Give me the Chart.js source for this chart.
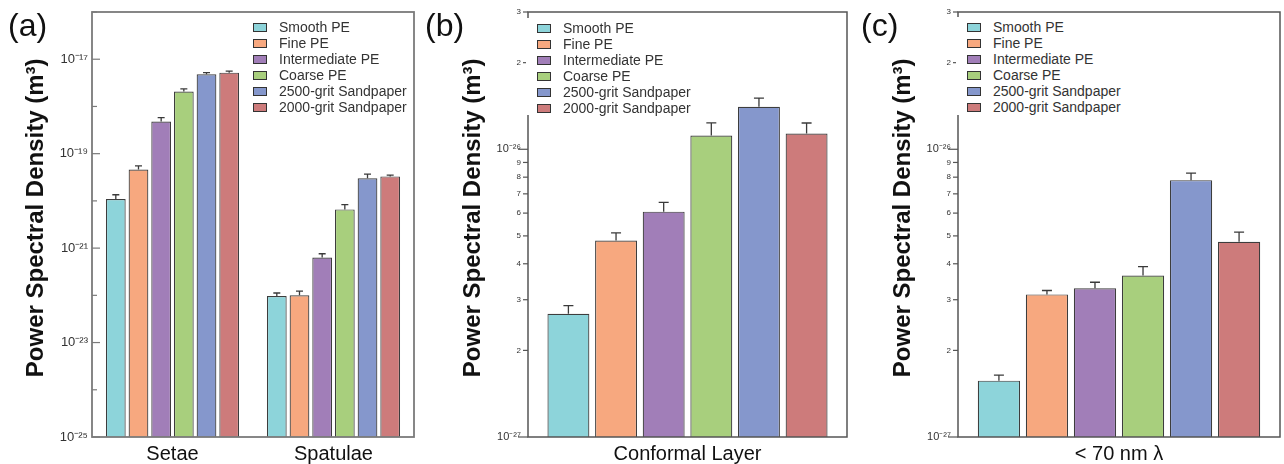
<!DOCTYPE html>
<html>
<head>
<meta charset="utf-8">
<script src="https://cdn.jsdelivr.net/npm/chart.js@4.4.0/dist/chart.umd.min.js"></script>
<style>
  body { margin: 0; background: #fff; font-family: 'Liberation Sans', Arial, sans-serif; }
  #wrap { position: relative; width: 1284px; height: 464px; overflow: hidden; }
  .panel { position: absolute; top: 0; height: 464px; }
  .panel canvas { position: absolute; left: 0; top: 0; }
  .tag { position: absolute; font-size: 32px; line-height: 32px; color: #111; }
  .legend { position: absolute; font-size: 14px; color: #333; }
  .legend .row { position: absolute; height: 16px; line-height: 16px; white-space: nowrap; }
  .legend .sw { position: absolute; width: 12px; height: 7px; border: 1px solid #333; }
</style>
</head>
<body>
<div id="wrap">
  <div class="panel" id="pa" style="left:0;width:424px"><canvas id="chartA" width="424" height="464"></canvas></div>
  <div class="panel" id="pb" style="left:424px;width:428px"><canvas id="chartB" width="428" height="464"></canvas></div>
  <div class="panel" id="pc" style="left:852px;width:432px"><canvas id="chartC" width="432" height="464"></canvas></div>
  <div class="tag" style="left:8px;top:9px">(a)</div>
  <div class="tag" style="left:425px;top:9px">(b)</div>
  <div class="tag" style="left:861px;top:9px">(c)</div>
</div>
<script>
// series shared by all three panels
const SERIES = ['Smooth PE', 'Fine PE', 'Intermediate PE', 'Coarse PE', '2500-grit Sandpaper', '2000-grit Sandpaper'];
const COLORS = ['#8dd4da', '#f7a87f', '#a17eb8', '#a8cf7d', '#8597cc', '#cd7b7b'];

// (a) setae / spatulae
const A_CATEGORIES = ['Setae', 'Spatulae'];
const SETAE_MEAN = [1.1e-20, 4.6e-20, 4.8e-19, 2.07e-18, 4.8e-18, 5.2e-18];
const SETAE_SD = [0.25e-20, 0.9e-20, 1.0e-19, 0.28e-18, 0.4e-18, 0.4e-18];
const SPATULAE_MEAN = [9.7e-23, 1.0e-22, 6.3e-22, 6.6e-21, 3.0e-20, 3.3e-20];
const SPATULAE_SD = [0.15e-22, 0.23e-22, 1.3e-22, 1.7e-21, 0.7e-20, 0.2e-20];
const A_TICKS = [1e-25, 1e-24, 1e-23, 1e-22, 1e-21, 1e-20, 1e-19, 1e-18, 1e-17, 1e-16];
const A_TICK_LABELS = ['10⁻²⁵', '', '10⁻²³', '', '10⁻²¹', '', '10⁻¹⁹', '', '10⁻¹⁷', ''];

// (b) conformal layer
const B_CATEGORIES = ['Conformal Layer'];
const CONFORMAL_MEAN = [2.68e-27, 4.82e-27, 6.07e-27, 1.116e-26, 1.405e-26, 1.134e-26];
const CONFORMAL_SD = [0.18e-27, 0.30e-27, 0.47e-27, 0.12e-26, 0.10e-26, 0.10e-26];

// (c) < 70 nm wavelength
const C_CATEGORIES = ['< 70 nm λ'];
const SUB70_MEAN = [1.57e-27, 3.13e-27, 3.29e-27, 3.64e-27, 7.81e-27, 4.77e-27];
const SUB70_SD = [0.07e-27, 0.10e-27, 0.16e-27, 0.27e-27, 0.45e-27, 0.38e-27];

const BC_TICKS = [1e-27, 2e-27, 3e-27, 4e-27, 5e-27, 6e-27, 7e-27, 8e-27, 9e-27, 1e-26, 2e-26, 3e-26];
const BC_TICK_LABELS = ['10⁻²⁷', '2', '3', '4', '5', '6', '7', '8', '9', '10⁻²⁶', '2', '3'];

const FONT = "'Liberation Sans', Arial, sans-serif";
Chart.defaults.font.family = FONT;

// error bars (upper half only), box frame and y tick marks
const framePlugin = {
    id: 'frame',
    afterDatasetsDraw(chart, args, opts) {
        const { ctx, chartArea: a, scales: { y } } = chart;
        ctx.save();
        ctx.strokeStyle = '#3a3a3a';
        ctx.lineWidth = 1.3;
        chart.data.datasets.forEach((ds, i) => {
            chart.getDatasetMeta(i).data.forEach((bar, j) => {
                const yTop = y.getPixelForValue(ds.data[j] + ds.errors[j]);
                ctx.beginPath();
                ctx.moveTo(bar.x, bar.y);
                ctx.lineTo(bar.x, yTop);
                ctx.moveTo(bar.x - opts.cap, yTop);
                ctx.lineTo(bar.x + opts.cap, yTop);
                ctx.stroke();
            });
        });
        ctx.strokeStyle = opts.color;
        ctx.lineWidth = opts.width;
        ctx.strokeRect(a.left, a.top, a.right - a.left, a.bottom - a.top);
        ctx.lineWidth = 1.2;
        y.ticks.forEach(t => {
            const py = y.getPixelForValue(t.value);
            const len = String(t.label).startsWith('10') ? opts.major : opts.minor;
            ctx.beginPath();
            ctx.moveTo(a.left, py);
            ctx.lineTo(a.left + opts.dir * len, py);
            ctx.stroke();
        });
        ctx.restore();
    }
};

function makeDatasets(means, sds, catPct, barPct) {
    return SERIES.map((name, i) => ({
        label: name,
        data: means.map(m => m[i]),
        errors: sds.map(s => s[i]),
        backgroundColor: COLORS[i],
        borderColor: '#3d3d3d',
        borderWidth: 1.2,
        categoryPercentage: catPct,
        barPercentage: barPct
    }));
}

function makeChart(id, cfg) {
    return new Chart(document.getElementById(id), {
        type: 'bar',
        data: {
            labels: cfg.labels,
            datasets: makeDatasets(cfg.means, cfg.sds, cfg.catPct, cfg.barPct)
        },
        plugins: [framePlugin],
        options: {
            responsive: false,
            animation: false,
            devicePixelRatio: 1,
            layout: { padding: { top: 12, right: cfg.padRight, left: 0, bottom: 0 } },
            plugins: {
                legend: { display: false },
                tooltip: { enabled: false },
                frame: cfg.frame
            },
            scales: {
                x: {
                    grid: { display: false, drawTicks: false },
                    border: { display: false },
                    ticks: { font: { size: 20 }, color: '#111', padding: 5 },
                    afterFit: s => { s.height = 27; }
                },
                y: {
                    type: 'logarithmic',
                    min: cfg.ticks[0],
                    max: cfg.ticks[cfg.ticks.length - 1],
                    afterBuildTicks: s => { s.ticks = cfg.ticks.map(v => ({ value: v })); },
                    grid: { display: false, drawTicks: false },
                    border: { display: false },
                    ticks: {
                        autoSkip: false,
                        padding: cfg.tickPad,
                        color: '#333',
                        font: c => ({ size: cfg.tickLabels[c.index].startsWith('10') ? cfg.bigTick : cfg.smallTick }),
                        callback: (v, i) => cfg.tickLabels[i]
                    },
                    title: {
                        display: true,
                        // leading spaces nudge the centred title up a little, as in the original
                        text: '  Power Spectral Density (m³)',
                        font: { size: 24, weight: 'bold' },
                        color: '#111',
                        padding: { top: cfg.titlePad, bottom: 0 }
                    },
                    afterFit: s => { s.width = cfg.axisWidth; }
                }
            }
        }
    });
}

makeChart('chartA', {
    labels: A_CATEGORIES, means: [SETAE_MEAN, SPATULAE_MEAN], sds: [SETAE_SD, SPATULAE_SD],
    catPct: 0.845, barPct: 0.87, padRight: 10, axisWidth: 92, titlePad: 22,
    ticks: A_TICKS, tickLabels: A_TICK_LABELS, tickPad: 4, bigTick: 13, smallTick: 13,
    frame: { color: '#7a7a7a', width: 1.8, dir: 1, major: 8, minor: 5, cap: 3.5 }
});
makeChart('chartB', {
    labels: B_CATEGORIES, means: [CONFORMAL_MEAN], sds: [CONFORMAL_SD],
    catPct: 0.896, barPct: 0.88, padRight: 5, axisWidth: 104, titlePad: 35,
    ticks: BC_TICKS, tickLabels: BC_TICK_LABELS, tickPad: 7, bigTick: 11, smallTick: 8,
    frame: { color: '#555', width: 1.5, dir: -1, major: 10, minor: 5, cap: 5 }
});
makeChart('chartC', {
    labels: C_CATEGORIES, means: [SUB70_MEAN], sds: [SUB70_SD],
    catPct: 0.895, barPct: 0.88, padRight: 4, axisWidth: 106, titlePad: 37,
    ticks: BC_TICKS, tickLabels: BC_TICK_LABELS, tickPad: 7, bigTick: 11, smallTick: 8,
    frame: { color: '#555', width: 1.5, dir: -1, major: 10, minor: 5, cap: 5 }
});

// legends drawn as html over the plot area
function makeLegend(panelId, cfg) {
    const box = document.createElement('div');
    box.className = 'legend';
    box.style.left = cfg.left + 'px';
    box.style.top = cfg.top + 'px';
    box.style.width = cfg.width + 'px';
    box.style.height = cfg.height + 'px';
    if (cfg.bg) box.style.background = '#fff';
    SERIES.forEach((name, i) => {
        const row = document.createElement('div');
        row.className = 'row';
        row.style.top = (cfg.rowTop + i * 16) + 'px';
        row.style.left = '0px';
        const sw = document.createElement('span');
        sw.className = 'sw';
        sw.style.left = cfg.swLeft + 'px';
        sw.style.top = '4px';
        sw.style.background = COLORS[i];
        const tx = document.createElement('span');
        tx.style.position = 'absolute';
        tx.style.left = cfg.textLeft + 'px';
        tx.textContent = name;
        row.appendChild(sw);
        row.appendChild(tx);
        box.appendChild(row);
    });
    document.getElementById(panelId).appendChild(box);
}

makeLegend('pa', { left: 253, top: 19, width: 160, height: 100, rowTop: 0, swLeft: 0, textLeft: 26, bg: false });
makeLegend('pb', { left: 102, top: 18, width: 200, height: 97, rowTop: 2, swLeft: 11, textLeft: 37, bg: true });
makeLegend('pc', { left: 104, top: 17, width: 200, height: 98, rowTop: 2, swLeft: 11, textLeft: 37, bg: true });
</script>
</body>
</html>
